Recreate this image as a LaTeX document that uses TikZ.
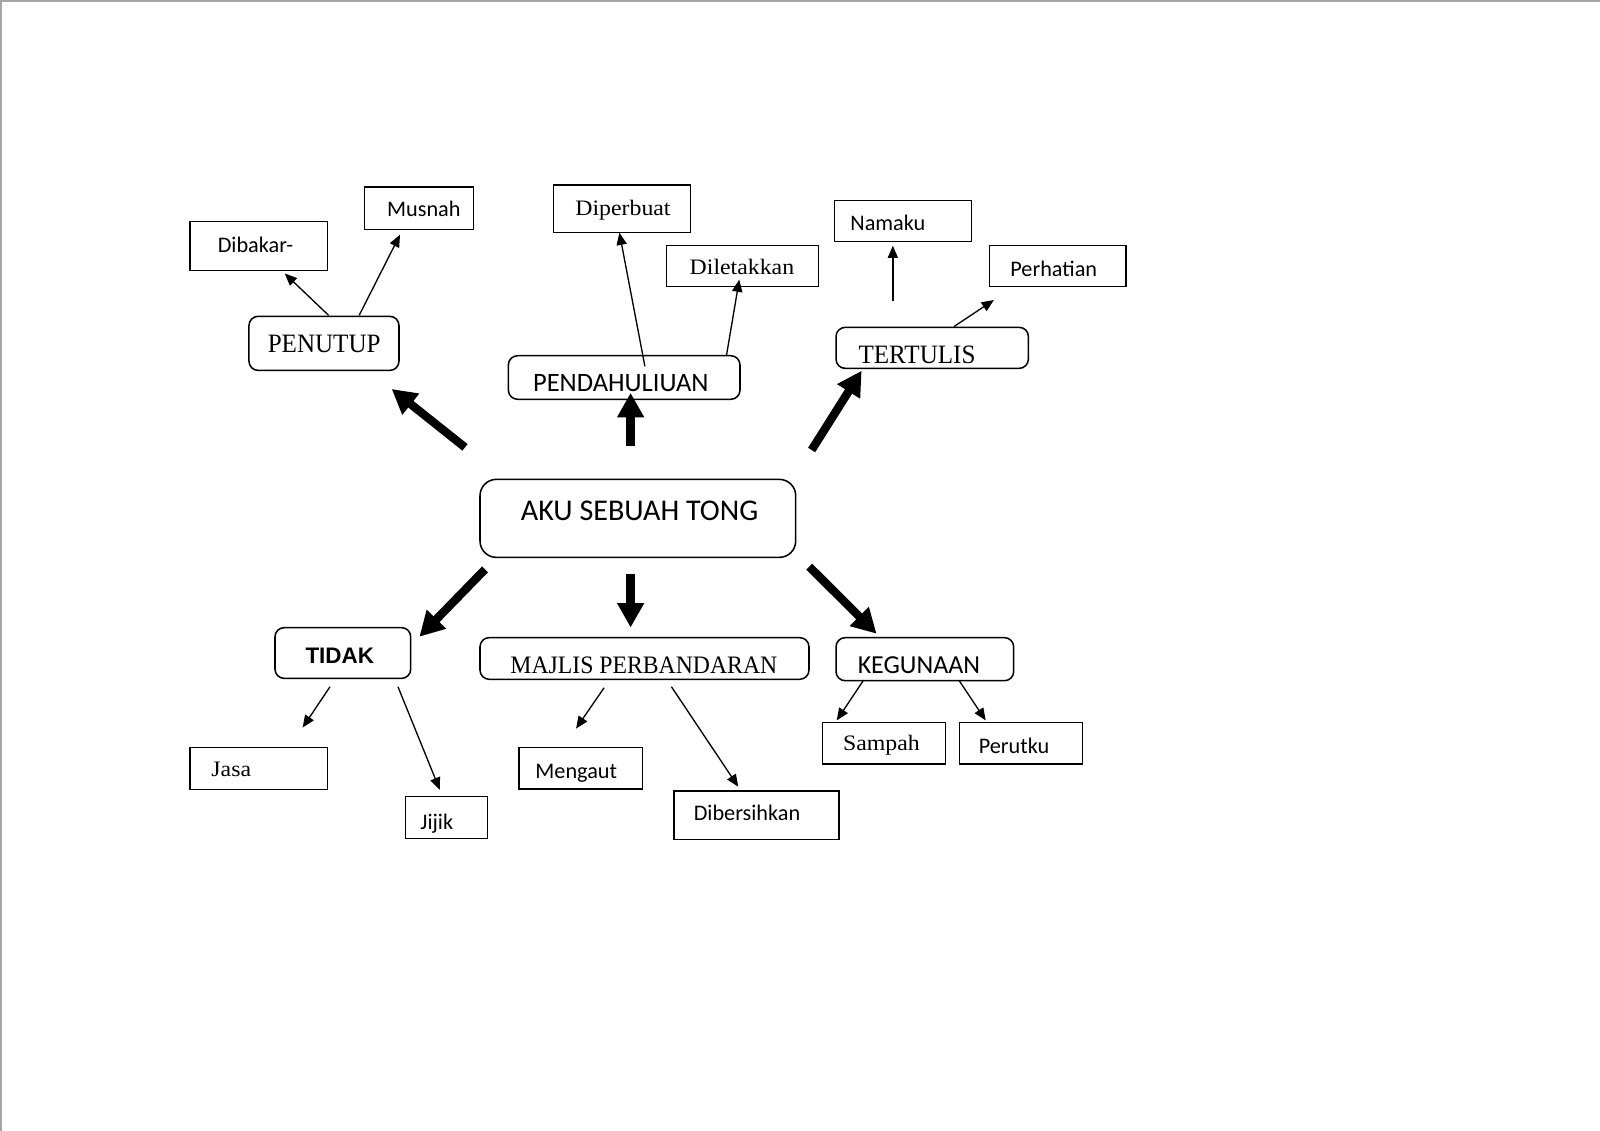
\documentclass[tikz,border=0pt]{standalone}
\usepackage{fontspec}
\setmainfont{Carlito}
\newfontfamily\sfx{Carlito}
\newfontfamily\srf[FakeStretch=1.08]{Liberation Serif}
\newfontfamily\srfc[FakeStretch=0.945]{Liberation Serif}
\newfontfamily\bsf{Liberation Sans}
\usetikzlibrary{arrows.meta,fit}
\begin{document}
\begin{tikzpicture}[x=0.5pt,y=-0.5pt,
  box/.style={draw,line width=0.75pt,inner sep=0pt},
  rbox/.style={box,rounded corners=4.5pt},
  lbl/.style={anchor=base west,inner sep=0pt},
  smallsans/.style={font=\sfx\fontsize{10.9}{13}\selectfont},
  smallserif/.style={font=\srf\fontsize{10.8}{13}\selectfont},
  bigserif/.style={font=\srfc\fontsize{13}{15}\selectfont},
  smallarrow/.style={line width=0.65pt,-{Triangle[length=6pt,width=5pt]}},
  bigarrow/.style={line width=4.1pt,-{Triangle[length=12pt,width=12.5pt]}}
]
\useasboundingbox (0,0) rectangle (1568,1108);
\draw[black!35,line width=0.75pt] (0.75,1108) -- (0.75,0.75) -- (1568,0.75);

% ---------- boxes ----------
\node[box,fit={(186,217)(321,265)}] (bdibakar) {};
\node[box,fit={(357,183)(464,225)}] (bmusnah) {};
\node[rbox,fit={(244,310)(391,363)}] (bpenutup) {};
\node[box,fit={(542.3,181.3)(676.9,227.7)}] (bdiperbuat) {};
\node[box,fit={(653.3,240.8)(802,280.9)}] (bdiletakkan) {};
\node[rbox,fit={(498.2,348.6)(725.2,391.3)}] (bpendahuluan) {};
\node[box,fit={(817.7,196.7)(952.2,236.8)}] (bnamaku) {};
\node[box,fit={(969.5,240.8)(1103.5,280.9)}] (bperhatian) {};
\node[rbox,fit={(819.3,320.8)(1007.8,361)}] (btertulis) {};
\node[rbox,rounded corners=8pt,fit={(470.4,469.8)(779.8,546.2)}] (baku) {};
\node[rbox,fit={(269.5,615.1)(402.5,664.8)}] (btidak) {};
\node[rbox,fit={(470.4,624.9)(792.8,665.7)}] (bmajlis) {};
\node[rbox,fit={(819.3,624.9)(993.4,667.1)}] (bkegunaan) {};
\node[box,fit={(186.2,732.7)(320.8,773.5)}] (bjasa) {};
\node[box,fit={(397.2,780.7)(477.6,821.6)}] (bjijik) {};
\node[box,fit={(508.6,732.7)(629.5,773.2)}] (bmengaut) {};
\node[box,fit={(660.5,775.2)(822.2,822.5)}] (bdibersihkan) {};
\node[box,fit={(805.9,707.9)(926.8,748.7)}] (bsampah) {};
\node[box,fit={(940.1,707.9)(1061,748.7)}] (bperutku) {};

% ---------- texts ----------
\node[lbl,smallsans] (tdibakar) at (213,247.6) {Dibakar-};
\node[lbl,smallsans] (tmusnah) at (379,212.3) {Musnah};
\node[lbl,bigserif] (tpenutup) at (262,345.6) {PENUTUP};
\node[lbl,smallserif] (tdiperbuat) at (563.5,210.7) {Diperbuat};
\node[lbl,smallserif] (tdiletakkan) at (675.5,268.8) {Diletakkan};
\node[lbl,font=\sfx\fontsize{13}{15}\selectfont] (tpendahuluan) at (522,383.8) {PENDAHULIUAN};
\node[lbl,smallsans] (tnamaku) at (833,225.4) {Namaku};
\node[lbl,smallsans] (tperhatian) at (989.8,270.5) {Perhatian};
\node[lbl,bigserif] (ttertulis) at (841,356) {TERTULIS};
\node[lbl,font=\sfx\fontsize{14.75}{17}\selectfont] (taku) at (510,509.6) {AKU SEBUAH TONG};
\node[lbl,font=\bsf\bfseries\fontsize{11}{13}\selectfont] (ttidak) at (299,650) {TIDAK};
\node[lbl,font=\srfc\fontsize{12.3}{14}\selectfont] (tmajlis) at (499.8,659.9) {MAJLIS PERBANDARAN};
\node[lbl,font=\sfx\fontsize{12.7}{15}\selectfont] (tkegunaan) at (840.2,659.9) {KEGUNAAN};
\node[lbl,smallserif] (tjasa) at (206.8,761) {Jasa};
\node[lbl,smallsans] (tjijik) at (411.6,812.7) {Jijik};
\node[lbl,smallsans] (tmengaut) at (524.3,762.8) {Mengaut};
\node[lbl,smallsans] (tdibersihkan) at (679.5,804.3) {Dibersihkan};
\node[lbl,smallserif] (tsampah) at (825.8,735.7) {Sampah};
\node[lbl,smallsans] (tperutku) at (958.8,738.3) {Perutku};

% ---------- thick arrows ----------
\coordinate (k1s) at (455.7,438.4); \coordinate (k1e) at (383.8,381.2);
\coordinate (k2s) at (618,437);     \coordinate (k2e) at (618,385);
\coordinate (k3s) at (795.4,441);   \coordinate (k3e) at (844.4,363.3);
\coordinate (k4s) at (475.3,558);   \coordinate (k4e) at (411,624);
\coordinate (k5s) at (618,562.5);   \coordinate (k5e) at (618,615);
\coordinate (k6s) at (793,555.3);   \coordinate (k6e) at (859,621);
\draw[bigarrow] (k1s) -- (k1e);
\draw[bigarrow] (k2s) -- (k2e);
\draw[bigarrow] (k3s) -- (k3e);
\draw[bigarrow] (k4s) -- (k4e);
\draw[bigarrow] (k5s) -- (k5e);
\draw[bigarrow] (k6s) -- (k6e);

% ---------- thin arrows ----------
\coordinate (s1s) at (322,309);   \coordinate (s1e) at (279,268);
\coordinate (s2s) at (352,309);   \coordinate (s2e) at (392,230);
\coordinate (s3s) at (632,359);   \coordinate (s3e) at (607,228);
\coordinate (s4s) at (712,348);   \coordinate (s4e) at (724.5,274);
\coordinate (s5s) at (875,294.6); \coordinate (s5e) at (875,240.8);
\coordinate (s6s) at (935,320);   \coordinate (s6e) at (974,294);
\coordinate (s7s) at (323.4,673); \coordinate (s7e) at (296.6,713);
\coordinate (s8s) at (390,673);   \coordinate (s8e) at (431,774);
\coordinate (s9s) at (592,674);   \coordinate (s9e) at (564.5,714);
\coordinate (s10s) at (658,673);  \coordinate (s10e) at (723.5,771);
\coordinate (s11s) at (846,667);  \coordinate (s11e) at (820,706);
\coordinate (s12s) at (940,667);  \coordinate (s12e) at (966,706);
\foreach \i in {1,...,12} {\draw[smallarrow] (s\i s) -- (s\i e);}
\end{tikzpicture}
\end{document}
